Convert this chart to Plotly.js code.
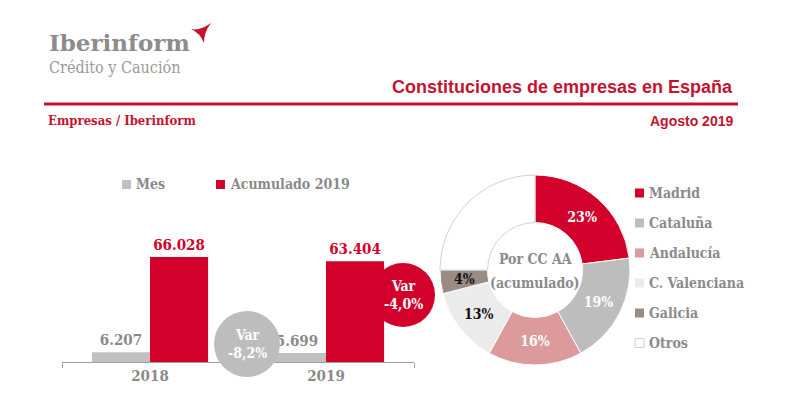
<!DOCTYPE html>
<html>
<head>
<meta charset="utf-8">
<script src="https://cdn.plot.ly/plotly-3.0.1.min.js"></script>
<style>
  html, body { margin: 0; padding: 0; background: #ffffff; }
  #chart { width: 790px; height: 420px; }
</style>
</head>
<body>
<div id="chart"></div>
<script>
// Company incorporations: monthly and cumulative counts
const years = ['2018', '2019'];
const seriesNames = ['Mes', 'Acumulado 2019'];
const mesValues = [6207, 5699];
const acumValues = [66028, 63404];
const varLabels = ['-8,2%', '-4,0%'];   // Mes, Acumulado

// Share of cumulative incorporations by region (%)
const regions = ['Madrid', 'Cataluña', 'Andalucía', 'C. Valenciana', 'Galicia', 'Otros'];
const regionShares = [23, 19, 16, 13, 4, 25];

// Styling
const RED = '#d3002b';
const TXT_RED = '#c4122f';
const GRAY_BAR = '#c0c0c0';
const GRAY_TXT = '#8a8a8a';
const regionColors = ['#d3002b', '#bdbdbd', '#dc9a9b', '#ebebeb', '#9a8b84', '#ffffff'];
const regionLineColors = ['#ffffff', '#ffffff', '#ffffff', '#ffffff', '#ffffff', '#d2d2d2'];
const regionTextColors = ['#ffffff', '#ffffff', '#ffffff', '#111111', '#111111', '#111111'];

const SLAB = '"DejaVu Serif Condensed", "DejaVu Serif", serif';
const SANS = '"Liberation Sans", Arial, sans-serif';

const W = 790, H = 420;
const px = x => x / W;
const py = y => 1 - y / H;

// slice labels: the thin Galicia slice gets its label as an annotation, "Otros" has none
const sliceText = regionShares.map((v, i) => (i === 4 || i === 5) ? '' : v + '%');

const traces = [
  {
    type: 'bar', name: seriesNames[0], x: years, y: mesValues,
    marker: { color: GRAY_BAR },
    texttemplate: '%{y:,}', textposition: 'outside', cliponaxis: false,
    textfont: { family: SLAB, size: 15, color: GRAY_TXT, weight: 'bold' },
    hoverinfo: 'skip', showlegend: false
  },
  {
    type: 'bar', name: seriesNames[1], x: years, y: acumValues,
    marker: { color: RED },
    texttemplate: '%{y:,}', textposition: 'outside', cliponaxis: false,
    textfont: { family: SLAB, size: 15, color: RED, weight: 'bold' },
    hoverinfo: 'skip', showlegend: false
  },
  {
    type: 'pie', labels: regions, values: regionShares,
    sort: false, direction: 'clockwise', rotation: 0, hole: 0.5,
    marker: { colors: regionColors, line: { color: regionLineColors, width: 1 } },
    text: sliceText, textinfo: 'text', textposition: 'inside', insidetextorientation: 'horizontal',
    textfont: { family: SLAB, size: 14, color: regionTextColors, weight: 'bold' },
    domain: { x: [px(440), px(630)], y: [py(365), py(175)] },
    hoverinfo: 'skip', showlegend: false
  }
];

const shapes = [
  // header rule
  { type: 'line', xref: 'paper', yref: 'paper', x0: px(44), x1: px(738), y0: py(104), y1: py(104),
    line: { color: TXT_RED, width: 3 } },
  // logo mark
  { type: 'path', xref: 'paper', yref: 'paper', layer: 'above',
    path: 'M' + px(191) + ',' + py(29) + ' Q' + px(200) + ',' + py(31) + ' ' + px(211) + ',' + py(23) +
          ' Q' + px(204) + ',' + py(32) + ' ' + px(204) + ',' + py(43) +
          ' Q' + px(200) + ',' + py(33) + ' ' + px(191) + ',' + py(29) + ' Z',
    fillcolor: TXT_RED, line: { width: 0 } },
  // variation badges
  { type: 'circle', xref: 'paper', yref: 'paper', layer: 'above',
    x0: px(214), x1: px(280), y0: py(311), y1: py(377), fillcolor: '#bdbdbd', line: { width: 0 } },
  { type: 'circle', xref: 'paper', yref: 'paper', layer: 'above',
    x0: px(371), x1: px(435), y0: py(263), y1: py(327), fillcolor: RED, line: { width: 0 } }
];

const annotations = [
  // logo
  { text: '<b>Iberinform</b>', x: px(47), y: py(43), xanchor: 'left', yanchor: 'middle',
    font: { family: '"DejaVu Serif", serif', size: 23, color: '#8c8c8c' } },
  { text: 'Crédito y Caución', x: px(47), y: py(67), xanchor: 'left', yanchor: 'middle',
    font: { family: '"DejaVu Serif Condensed", "DejaVu Serif", serif', size: 16, color: '#9a9a9a' } },
  // headings
  { text: '<b>Constituciones de empresas en España</b>', x: px(735), y: py(87), xanchor: 'right', yanchor: 'middle',
    font: { family: SANS, size: 18, color: TXT_RED } },
  { text: '<b>Empresas / Iberinform</b>', x: px(46), y: py(121), xanchor: 'left', yanchor: 'middle',
    font: { family: SLAB, size: 13, color: TXT_RED } },
  { text: '<b>Agosto 2019</b>', x: px(735), y: py(121), xanchor: 'right', yanchor: 'middle',
    font: { family: SANS, size: 14, color: TXT_RED } },
  // variation badge texts
  { text: '<b>Var</b><br><b>' + varLabels[0] + '</b>', x: px(247), y: py(344), xanchor: 'center', yanchor: 'middle',
    font: { family: SLAB, size: 14, color: '#ffffff' } },
  { text: '<b>Var</b><br><b>' + varLabels[1] + '</b>', x: px(404), y: py(295), xanchor: 'center', yanchor: 'middle',
    font: { family: SLAB, size: 14, color: '#ffffff' } },
  // donut centre
  { text: '<b>Por CC AA</b>', x: px(535), y: py(259), xanchor: 'center', yanchor: 'middle',
    font: { family: SLAB, size: 14, color: GRAY_TXT } },
  { text: '<b>(acumulado)</b>', x: px(535), y: py(283), xanchor: 'center', yanchor: 'middle',
    font: { family: SLAB, size: 14, color: GRAY_TXT } },
  // Galicia slice label
  { text: '<b>' + regionShares[4] + '%</b>', x: px(464), y: py(279), xanchor: 'center', yanchor: 'middle',
    font: { family: SLAB, size: 14, color: regionTextColors[4] } }
];

// bar legend
const barLegend = [{ x: 122, color: GRAY_BAR }, { x: 216, color: RED }];
seriesNames.forEach((name, i) => {
  const lx = barLegend[i].x;
  shapes.push({ type: 'rect', xref: 'paper', yref: 'paper', x0: px(lx), x1: px(lx + 9), y0: py(189), y1: py(180),
    fillcolor: barLegend[i].color, line: { width: 0 } });
  annotations.push({ text: '<b>' + name + '</b>', x: px(lx + 12), y: py(184), xanchor: 'left', yanchor: 'middle',
    font: { family: SLAB, size: 14, color: GRAY_TXT } });
});

// region legend
regions.forEach((name, i) => {
  const cy = 193 + i * 30;
  shapes.push({ type: 'rect', xref: 'paper', yref: 'paper', x0: px(635), x1: px(644), y0: py(cy + 4.5), y1: py(cy - 4.5),
    fillcolor: regionColors[i], line: { width: regionColors[i] === '#ffffff' ? 1 : 0, color: '#cfcfcf' } });
  annotations.push({ text: '<b>' + name + '</b>', x: px(647), y: py(cy), xanchor: 'left', yanchor: 'middle',
    font: { family: SLAB, size: 14, color: GRAY_TXT } });
});

annotations.forEach(a => { a.xref = 'paper'; a.yref = 'paper'; a.showarrow = false; });

const layout = {
  width: W, height: H,
  margin: { l: 0, r: 0, t: 0, b: 0 },
  paper_bgcolor: '#ffffff', plot_bgcolor: 'rgba(0,0,0,0)',
  separators: ',.',
  barmode: 'group', bargap: 0.34, bargroupgap: 0,
  showlegend: false,
  xaxis: {
    domain: [px(62), px(414)], range: [-0.5, 1.5], type: 'category',
    showline: true, linecolor: '#a0a0a0', linewidth: 1,
    ticks: 'outside', tickson: 'boundaries', ticklen: 5, tickcolor: '#a0a0a0',
    showgrid: false, zeroline: false, fixedrange: true,
    tickfont: { family: SLAB, size: 15, color: GRAY_TXT, weight: 'bold' }
  },
  yaxis: {
    domain: [py(362), py(203)], range: [0, 100000],
    visible: false, showgrid: false, zeroline: false, fixedrange: true
  },
  shapes: shapes,
  annotations: annotations
};

Plotly.newPlot('chart', traces, layout, { displayModeBar: false, staticPlot: true });
</script>
</body>
</html>
